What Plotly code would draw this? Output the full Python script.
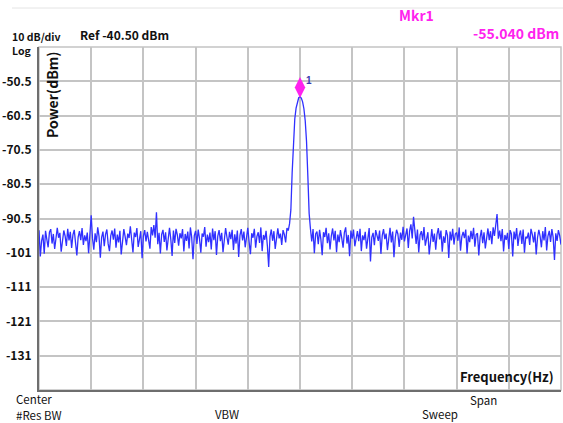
import plotly.graph_objects as go

# ---------------- data ----------------
freq_index = list(range(401))
noise_left_dbm = [
    -93.9, -101.6, -97.0, -95.2, -100.8, -94.1, -96.6, -98.9, -94.5, -93.6, -97.8, -95.0,
    -99.4, -95.8, -93.2, -96.1, -94.7, -100.2, -97.3, -94.0, -95.6, -98.5, -93.5, -96.9,
    -94.4, -99.1, -95.3, -93.8, -97.6, -101.3, -95.9, -94.2, -96.8, -93.3, -98.2, -95.4,
    -97.1, -94.6, -100.6, -93.9, -89.6, -96.3, -99.6, -94.8, -97.4, -93.1, -95.7, -101.9,
    -96.0, -94.3, -98.6, -95.1, -93.7, -97.9, -100.0, -95.5, -94.0, -96.7, -93.4, -99.0,
    -95.2, -97.5, -94.1, -101.0, -96.4, -93.6, -95.8, -98.3, -94.9, -96.2, -92.8, -97.7,
    -100.4, -94.6, -95.9, -93.3, -98.8, -96.5, -94.2, -102.1, -95.6, -93.9, -97.2, -94.4,
    -96.9, -99.3, -93.0, -95.4, -92.4, -96.1, -88.7, -98.0, -94.7, -100.7, -95.1, -93.8,
    -97.3, -94.5, -99.8, -95.7, -93.2, -96.6, -101.4, -94.0, -97.6, -93.5, -95.3, -98.4,
    -94.8, -96.3, -93.6, -100.1, -95.0, -97.0, -94.3, -99.2, -93.1, -96.0, -102.4, -95.5,
    -94.1, -97.9, -93.7, -96.4, -100.5, -94.9, -95.8, -93.0, -98.7, -95.2, -97.4, -94.6,
    -99.5, -93.4, -96.8, -94.2, -101.1, -95.6, -93.9, -97.1, -94.7, -100.3, -96.2, -93.3,
    -95.9, -98.1, -94.4, -96.5, -93.8, -99.7, -95.1, -97.8, -94.0, -101.7, -95.4, -93.6,
    -96.9, -94.3, -98.9, -95.0, -93.2, -97.3, -100.9, -94.8, -96.1, -93.5, -99.0, -95.7,
    -94.5, -97.6, -93.1, -100.0, -95.3, -96.7, -94.1, -98.5, -104.6, -95.8, -93.7, -97.0,
    -94.2, -99.4, -95.5, -93.4, -96.3, -94.9, -98.2, -93.9, -95.1, -97.5, -93.3, -94.0,
]
peak_dbm = [
    -92.0, -88.0, -77.0, -67.0, -61.5, -58.3, -56.4, -55.3, -55.04,
    -55.4, -56.5, -58.5, -62.0, -68.0, -78.0, -89.0, -93.5,
]
noise_right_dbm = [
    -97.2, -93.6, -100.6, -95.0, -94.3, -98.0, -93.8, -96.6, -101.2, -94.5, -95.9, -93.2,
    -97.7, -94.8, -99.5, -95.6, -93.4, -96.9, -94.1, -100.3, -95.2, -97.4, -93.9, -96.2,
    -99.0, -94.6, -93.1, -97.8, -95.3, -101.5, -94.0, -96.4, -93.7, -98.6, -95.8, -94.2,
    -97.1, -93.5, -100.0, -95.4, -96.8, -94.4, -99.3, -95.1, -93.3, -103.0, -96.0, -94.7,
    -98.3, -93.9, -95.7, -97.0, -94.0, -100.8, -95.5, -93.6, -96.5, -94.9, -99.7, -95.2,
    -93.2, -97.5, -94.3, -101.8, -96.1, -93.8, -95.0, -98.8, -94.6, -96.7, -92.9, -97.2,
    -95.6, -93.4, -99.1, -94.1, -92.2, -96.3, -90.0, -94.8, -97.9, -93.7, -100.4, -95.3,
    -94.2, -96.8, -93.0, -98.4, -95.9, -94.5, -101.0, -96.0, -93.6, -97.3, -94.9, -99.6,
    -95.1, -93.3, -96.6, -94.0, -100.2, -95.7, -97.6, -93.9, -95.4, -102.0, -94.3, -96.9,
    -93.5, -98.1, -95.0, -94.6, -97.0, -93.1, -99.9, -95.8, -94.4, -96.2, -93.7, -100.7,
    -95.5, -97.4, -94.1, -96.5, -93.2, -98.7, -95.2, -94.8, -101.3, -96.0, -93.8, -97.7,
    -94.5, -99.2, -95.9, -93.4, -96.8, -94.2, -98.0, -93.1, -95.6, -92.5, -89.2, -96.4,
    -94.0, -97.1, -93.6, -100.1, -95.3, -96.7, -94.7, -99.4, -93.9, -95.0, -101.6, -94.3,
    -96.6, -93.3, -98.5, -95.4, -94.0, -97.9, -93.7, -100.5, -95.8, -96.3, -94.6, -98.2,
    -93.5, -95.1, -97.5, -94.4, -101.0, -96.1, -93.8, -95.7, -98.9, -94.2, -96.9, -93.0,
    -99.8, -95.6, -94.1, -97.3, -93.6, -96.0, -102.6, -94.8, -97.0, -93.9, -95.5, -98.1,
]
power_dbm = noise_left_dbm + peak_dbm + noise_right_dbm
ref_level = -40.5
db_per_div = 10
y_tick_vals = [-50.5, -60.5, -70.5, -80.5, -90.5, -100.5, -110.5, -120.5, -130.5]
y_tick_text = ["-50.5", "-60.5", "-70.5", "-80.5", "-90.5", "-101", "-111", "-121", "-131"]
marker_x = 200
marker_value = -55.04

# ---------------- style ----------------
FONT = "Noto Sans CJK KR"
L, R, T, B = 39, 2, 47, 33
W, H = 563, 423
PW, PH = W - L - R, H - T - B
MARKER_OFFSET_DB = 2.7


def px(x):
    return (x - L) / PW


def py(y):
    return (H - B - y) / PH


fig = go.Figure()
fig.add_trace(go.Scatter(
    x=freq_index, y=power_dbm, mode="lines",
    line=dict(color="#3030ff", width=1.3), hoverinfo="skip", showlegend=False,
))
fig.add_trace(go.Scatter(
    x=[marker_x], y=[marker_value + MARKER_OFFSET_DB], mode="markers",
    marker=dict(symbol="diamond-tall", size=15, color="#ff22ee", line=dict(width=0)),
    showlegend=False, hoverinfo="skip",
))

annotations = [
    dict(x=px(10), y=py(36), text="<b>10 dB/div</b>", xanchor="left", size=10.5),
    dict(x=px(10), y=py(51), text="<b>Log</b>", xanchor="left", size=10.5),
    dict(x=px(78), y=py(34), text="<b>Ref %.2f dBm</b>" % ref_level, xanchor="left", size=12),
    dict(x=px(397), y=py(15), text="<b>Mkr1</b>", xanchor="left", size=14, color="#ff22ee"),
    dict(x=px(561), y=py(33), text="<b>%.3f dBm</b>" % marker_value, xanchor="right", size=14, color="#ff22ee"),
    dict(x=px(556), y=py(376), text="<b>Frequency(Hz)</b>", xanchor="right", size=13),
    dict(x=px(14), y=py(399), text="Center", xanchor="left", size=11.5),
    dict(x=px(14), y=py(415), text="#Res BW", xanchor="left", size=11.5),
    dict(x=px(213), y=py(414), text="VBW", xanchor="left", size=11.5),
    dict(x=px(468), y=py(400), text="Span", xanchor="left", size=11.5),
    dict(x=px(420), y=py(414), text="Sweep", xanchor="left", size=11.5),
]
ann_objs = []
for a in annotations:
    ann_objs.append(dict(
        x=a["x"], y=a["y"], xref="paper", yref="paper", text=a["text"],
        xanchor=a["xanchor"], yanchor="middle", showarrow=False,
        font=dict(family=FONT, size=a.get("size", 11), color=a.get("color", "#111111")),
    ))
ann_objs.append(dict(
    x=px(52), y=py(95), xref="paper", yref="paper", text="<b>Power(dBm)</b>",
    textangle=-90, showarrow=False, xanchor="center", yanchor="middle",
    font=dict(family=FONT, size=14, color="#111111"),
))
ann_objs.append(dict(
    x=marker_x, y=marker_value + MARKER_OFFSET_DB, xref="x", yref="y", text="<b>1</b>",
    showarrow=False, xanchor="left", yanchor="middle", xshift=4, yshift=7,
    font=dict(family="Liberation Sans", size=10, color="#3a3ab0"),
))

fig.update_layout(
    width=W, height=H,
    margin=dict(l=L, r=R, t=T, b=B, pad=0, autoexpand=False),
    paper_bgcolor="white", plot_bgcolor="white",
    annotations=ann_objs,
    shapes=[
        dict(type="line", xref="paper", yref="paper", x0=px(12), x1=px(563),
             y0=py(8), y1=py(8), line=dict(color="#e4e4e4", width=1)),
        dict(type="rect", xref="paper", yref="paper", x0=0, x1=1, y0=0, y1=1,
             line=dict(color="#c4c4c4", width=1.5), layer="below"),
    ],
)
fig.update_xaxes(
    range=[0, 400], dtick=40, tick0=0, showticklabels=False, ticks="",
    showgrid=True, gridcolor="#c4c4c4", gridwidth=1.5, zeroline=False,
    showline=True, linecolor="#6e6e6e", linewidth=2, mirror=False,
)
fig.update_yaxes(
    range=[ref_level - 10 * db_per_div, ref_level], tickvals=y_tick_vals,
    ticktext=["<b>%s</b>" % t for t in y_tick_text],
    ticks="", showgrid=True, gridcolor="#c4c4c4", gridwidth=1.5, zeroline=False,
    showline=True, linecolor="#6e6e6e", linewidth=2, mirror=False,
    tickfont=dict(family=FONT, size=12, color="#111111"), ticklabelstandoff=3,
)
fig.write_html("out.html", config={"displayModeBar": False},
               post_script="document.body.style.margin='0';")
